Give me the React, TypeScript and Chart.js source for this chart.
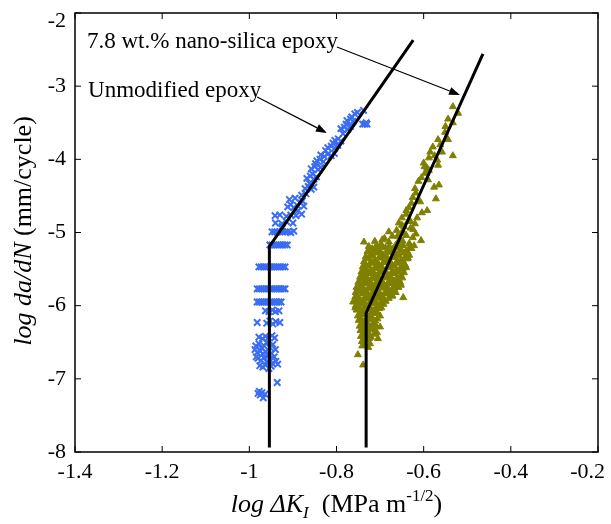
import React, { useEffect, useRef } from "react";
import { Chart, registerables } from "chart.js";

Chart.register(...registerables);

// ---------- axis ticks ----------
const xTickValues = [-1.4, -1.2, -1.0, -0.8, -0.6, -0.4, -0.2];
const xTickLabels = ["-1.4", "-1.2", "-1", "-0.8", "-0.6", "-0.4", "-0.2"];
const yTickValues = [-8, -7, -6, -5, -4, -3, -2];
const yTickLabels = ["-8", "-7", "-6", "-5", "-4", "-3", "-2"];

// ---------- fitted lines (x, y) ----------
const unmodifiedFit: [number, number][] = [
  [-0.954, -7.94],
  [-0.954, -5.19],
  [-0.624, -2.37],
];
const nanoFit: [number, number][] = [
  [-0.732, -7.94],
  [-0.732, -6.1],
  [-0.464, -2.56],
];

// ---------- unmodified epoxy data (log dK, log da/dN) ----------
const unmodifiedPoints: [number, number][] = [
  [-0.98, -7.2], [-0.975, -7.22], [-0.971, -7.19], [-0.968, -7.26], [-0.977, -7.17], [-0.964, -7.21],
  [-0.936, -7.05],
  [-0.985, -6.55], [-0.978, -6.52], [-0.972, -6.58], [-0.966, -6.55], [-0.96, -6.5], [-0.953, -6.57], [-0.946, -6.53], [-0.94, -6.6],
  [-0.982, -6.64], [-0.975, -6.62], [-0.969, -6.66], [-0.962, -6.63], [-0.956, -6.68], [-0.949, -6.65], [-0.943, -6.7],
  [-0.98, -6.72], [-0.973, -6.75], [-0.967, -6.71], [-0.96, -6.77], [-0.954, -6.73], [-0.947, -6.79], [-0.939, -6.76], [-0.935, -6.8],
  [-0.976, -6.82], [-0.969, -6.84], [-0.962, -6.81], [-0.955, -6.86], [-0.95, -6.83],
  [-0.987, -6.6], [-0.984, -6.7],
  [-0.978, -6.43], [-0.97, -6.45], [-0.963, -6.42], [-0.956, -6.44], [-0.948, -6.41], [-0.942, -6.44],
  [-0.982, -6.23], [-0.96, -6.24], [-0.953, -6.21], [-0.946, -6.25], [-0.939, -6.22], [-0.93, -6.23],
  [-0.963, -6.07], [-0.955, -6.08], [-0.947, -6.06], [-0.94, -6.08], [-0.932, -6.07],
  [-0.982, -5.95], [-0.977, -5.95], [-0.972, -5.95], [-0.967, -5.95], [-0.962, -5.95], [-0.957, -5.95], [-0.952, -5.95],
  [-0.947, -5.95], [-0.942, -5.95], [-0.937, -5.95], [-0.932, -5.95], [-0.927, -5.95],
  [-0.982, -5.77], [-0.977, -5.77], [-0.972, -5.77], [-0.967, -5.77], [-0.962, -5.77], [-0.957, -5.77], [-0.952, -5.77],
  [-0.947, -5.77], [-0.942, -5.77], [-0.937, -5.77], [-0.932, -5.77], [-0.927, -5.77], [-0.922, -5.77], [-0.918, -5.77],
  [-0.978, -5.47], [-0.973, -5.47], [-0.968, -5.47], [-0.963, -5.47], [-0.958, -5.47], [-0.953, -5.47], [-0.948, -5.47],
  [-0.943, -5.47], [-0.938, -5.47], [-0.933, -5.47], [-0.928, -5.47], [-0.923, -5.47], [-0.918, -5.47],
  [-0.953, -5.17], [-0.948, -5.17], [-0.943, -5.17], [-0.938, -5.17], [-0.933, -5.17], [-0.928, -5.17], [-0.923, -5.17],
  [-0.918, -5.17], [-0.913, -5.17],
  [-0.948, -4.99], [-0.942, -4.99], [-0.936, -4.99], [-0.93, -4.99], [-0.924, -4.99], [-0.918, -4.99], [-0.912, -4.99],
  [-0.905, -5.0], [-0.898, -4.98],
  [-0.94, -4.87], [-0.925, -4.88], [-0.9, -4.87], [-0.925, -4.92], [-0.915, -4.85],
  [-0.941, -4.77], [-0.93, -4.76], [-0.915, -4.78], [-0.905, -4.76], [-0.893, -4.77], [-0.88, -4.75],
  [-0.888, -4.7],
  [-0.912, -4.65], [-0.905, -4.62], [-0.898, -4.66], [-0.89, -4.63], [-0.882, -4.6], [-0.875, -4.64],
  [-0.908, -4.55], [-0.895, -4.53], [-0.88, -4.49], [-0.87, -4.47], [-0.878, -4.57],
  [-0.872, -4.4], [-0.865, -4.37], [-0.858, -4.41], [-0.852, -4.38], [-0.862, -4.33],
  [-0.868, -4.26], [-0.86, -4.23], [-0.852, -4.27], [-0.846, -4.24], [-0.855, -4.2],
  [-0.858, -4.13], [-0.85, -4.1], [-0.842, -4.14], [-0.836, -4.11], [-0.848, -4.06],
  [-0.845, -4.02], [-0.838, -4.0], [-0.83, -4.03],
  [-0.836, -3.94], [-0.828, -3.96], [-0.82, -3.93], [-0.812, -3.95], [-0.805, -3.92], [-0.825, -3.88],
  [-0.82, -3.84], [-0.812, -3.82], [-0.804, -3.85], [-0.797, -3.81], [-0.808, -3.78],
  [-0.804, -3.74], [-0.796, -3.72], [-0.79, -3.75], [-0.785, -3.65],
  [-0.79, -3.58], [-0.782, -3.56], [-0.774, -3.59], [-0.768, -3.55], [-0.778, -3.52],
  [-0.776, -3.47], [-0.768, -3.45], [-0.762, -3.48], [-0.765, -3.42],
  [-0.758, -3.38], [-0.752, -3.36], [-0.738, -3.33],
  [-0.74, -3.52], [-0.735, -3.52], [-0.73, -3.52], [-0.732, -3.5],
];

// ---------- 7.8 wt.% nano-silica epoxy data ----------
const nanoPoints: [number, number][] = [
  [-0.533, -3.28], [-0.521, -3.37], [-0.544, -3.45], [-0.533, -3.5], [-0.551, -3.63], [-0.544, -3.73],
  [-0.567, -3.73], [-0.579, -3.83], [-0.558, -3.9], [-0.533, -3.95], [-0.588, -3.98], [-0.569, -4.01],
  [-0.567, -4.08], [-0.592, -4.12], [-0.597, -4.19], [-0.59, -4.28], [-0.576, -4.38], [-0.565, -4.35],
  [-0.572, -4.54], [-0.618, -4.46], [-0.608, -4.58], [-0.592, -4.7], [-0.634, -4.66], [-0.604, -4.73],
  [-0.737, -5.13], [-0.606, -5.11], [-0.657, -4.87], [-0.624, -4.96],
  [-0.585, -3.9], [-0.6, -4.05], [-0.612, -4.3], [-0.625, -4.52], [-0.64, -4.75], [-0.615, -4.8],
  [-0.645, -4.92], [-0.63, -4.85], [-0.65, -5.0], [-0.618, -5.02], [-0.66, -5.05],
  [-0.65, -4.8], [-0.64, -4.7], [-0.628, -4.6], [-0.62, -4.4], [-0.605, -4.25], [-0.598, -4.1],
  [-0.588, -4.15], [-0.575, -3.95], [-0.562, -3.8], [-0.55, -3.55],
  [-0.69, -5.08], [-0.672, -5.05], [-0.655, -5.09], [-0.64, -5.04], [-0.625, -5.07], [-0.68, -4.99],
  [-0.662, -4.97], [-0.645, -5.01], [-0.63, -4.94], [-0.65, -4.9], [-0.635, -4.84], [-0.62, -4.88],
  [-0.712, -5.12], [-0.695, -5.1], [-0.708, -5.18],
  [-0.698, -5.16], [-0.68, -5.13], [-0.664, -5.17], [-0.648, -5.12], [-0.633, -5.15], [-0.622, -5.18],
  [-0.726, -5.19], [-0.71, -5.2], [-0.695, -5.19], [-0.679, -5.19], [-0.663, -5.21], [-0.647, -5.18], [-0.632, -5.2],
  [-0.718, -5.22], [-0.702, -5.24], [-0.688, -5.21], [-0.671, -5.23], [-0.655, -5.2], [-0.64, -5.25], [-0.628, -5.22],
  [-0.729, -5.26], [-0.714, -5.25], [-0.7, -5.27], [-0.684, -5.25], [-0.669, -5.27], [-0.653, -5.25], [-0.637, -5.27],
  [-0.722, -5.3], [-0.708, -5.28], [-0.693, -5.31], [-0.677, -5.27], [-0.661, -5.3], [-0.646, -5.28], [-0.633, -5.31],
  [-0.733, -5.33], [-0.716, -5.32], [-0.701, -5.33], [-0.686, -5.32], [-0.672, -5.33], [-0.656, -5.32], [-0.642, -5.33],
  [-0.728, -5.36], [-0.713, -5.38], [-0.697, -5.35], [-0.683, -5.37], [-0.668, -5.34], [-0.652, -5.38], [-0.638, -5.36],
  [-0.737, -5.4], [-0.721, -5.4], [-0.706, -5.41], [-0.691, -5.39], [-0.676, -5.41], [-0.661, -5.39], [-0.646, -5.41],
  [-0.733, -5.44], [-0.718, -5.42], [-0.703, -5.45], [-0.689, -5.41], [-0.673, -5.44], [-0.657, -5.42], [-0.642, -5.45],
  [-0.74, -5.47], [-0.726, -5.46], [-0.711, -5.47], [-0.697, -5.46], [-0.682, -5.47], [-0.667, -5.46], [-0.652, -5.47], [-0.64, -5.48],
  [-0.736, -5.5], [-0.722, -5.52], [-0.708, -5.49], [-0.693, -5.51], [-0.678, -5.48], [-0.663, -5.52], [-0.648, -5.5],
  [-0.743, -5.54], [-0.73, -5.53], [-0.716, -5.54], [-0.701, -5.53], [-0.686, -5.54], [-0.672, -5.53], [-0.657, -5.54], [-0.645, -5.55],
  [-0.738, -5.58], [-0.725, -5.56], [-0.711, -5.59], [-0.697, -5.55], [-0.683, -5.58], [-0.668, -5.56], [-0.652, -5.59],
  [-0.746, -5.61], [-0.732, -5.6], [-0.718, -5.61], [-0.704, -5.6], [-0.69, -5.61], [-0.676, -5.6], [-0.661, -5.61], [-0.649, -5.62],
  [-0.742, -5.64], [-0.729, -5.66], [-0.715, -5.63], [-0.701, -5.65], [-0.687, -5.62], [-0.672, -5.66], [-0.657, -5.64],
  [-0.75, -5.68], [-0.736, -5.67], [-0.722, -5.68], [-0.708, -5.67], [-0.694, -5.68], [-0.68, -5.67], [-0.666, -5.68], [-0.654, -5.68],
  [-0.746, -5.72], [-0.733, -5.7], [-0.719, -5.73], [-0.705, -5.69], [-0.691, -5.72], [-0.676, -5.7], [-0.662, -5.73],
  [-0.754, -5.75], [-0.74, -5.74], [-0.726, -5.75], [-0.712, -5.74], [-0.698, -5.75], [-0.684, -5.74], [-0.67, -5.75], [-0.658, -5.75],
  [-0.75, -5.78], [-0.737, -5.8], [-0.723, -5.77], [-0.709, -5.79], [-0.695, -5.76], [-0.681, -5.8], [-0.667, -5.78],
  [-0.756, -5.82], [-0.744, -5.81], [-0.73, -5.82], [-0.716, -5.81], [-0.702, -5.82], [-0.688, -5.81], [-0.676, -5.82], [-0.664, -5.82],
  [-0.753, -5.86], [-0.74, -5.84], [-0.726, -5.87], [-0.712, -5.83], [-0.698, -5.86], [-0.684, -5.84], [-0.672, -5.87],
  [-0.75, -5.89], [-0.735, -5.89], [-0.721, -5.89], [-0.707, -5.88], [-0.693, -5.89], [-0.68, -5.9],
  [-0.755, -5.92], [-0.742, -5.94], [-0.728, -5.91], [-0.714, -5.93], [-0.7, -5.9], [-0.687, -5.94],
  [-0.75, -5.96], [-0.736, -5.96], [-0.722, -5.95], [-0.709, -5.96], [-0.697, -5.95],
  [-0.756, -6.0], [-0.743, -5.98], [-0.729, -6.01], [-0.716, -5.97], [-0.703, -6.0], [-0.692, -5.98],
  [-0.748, -6.03], [-0.735, -6.02], [-0.722, -6.03], [-0.709, -6.02], [-0.697, -6.03],
  [-0.754, -6.06], [-0.741, -6.08], [-0.728, -6.05], [-0.715, -6.07], [-0.702, -6.04],
  [-0.746, -6.1], [-0.733, -6.09], [-0.72, -6.1], [-0.707, -6.09],
  [-0.751, -6.14], [-0.738, -6.12], [-0.725, -6.15], [-0.712, -6.11], [-0.7, -6.14],
  [-0.744, -6.17], [-0.731, -6.17], [-0.718, -6.17], [-0.706, -6.18],
  [-0.749, -6.2], [-0.736, -6.22], [-0.723, -6.19], [-0.711, -6.21],
  [-0.742, -6.24], [-0.729, -6.24], [-0.716, -6.24],
  [-0.747, -6.28], [-0.734, -6.26], [-0.721, -6.29], [-0.71, -6.27],
  [-0.74, -6.31], [-0.727, -6.31], [-0.714, -6.31],
  [-0.745, -6.34], [-0.732, -6.36], [-0.719, -6.33],
  [-0.738, -6.38], [-0.726, -6.38], [-0.714, -6.39],
  [-0.744, -6.42], [-0.731, -6.4], [-0.721, -6.43],
  [-0.736, -6.45], [-0.725, -6.45],
  [-0.742, -6.49], [-0.729, -6.47],
  [-0.735, -6.52], [-0.723, -6.52],
  [-0.741, -6.55], [-0.727, -6.57],
  [-0.757, -5.88], [-0.647, -5.89], [-0.636, -5.35], [-0.652, -5.72], [-0.673, -5.85], [-0.7, -6.29],
  [-0.707, -6.37], [-0.705, -6.45], [-0.751, -6.67], [-0.739, -6.81], [-0.757, -6.03], [-0.762, -5.95],
];

// ---------- annotation labels ----------
const nanoLabel = "7.8 wt.% nano-silica epoxy";
const unmodifiedLabel = "Unmodified epoxy";

const SERIF = "'Liberation Serif', 'Times New Roman', serif";

const toXY = (pts: [number, number][]) => pts.map(([x, y]) => ({ x, y }));

function drawArrow(ctx: CanvasRenderingContext2D, x1: number, y1: number, x2: number, y2: number) {
  const ang = Math.atan2(y2 - y1, x2 - x1);
  const hl = 11;
  const hw = 4;
  const bx = x2 - hl * Math.cos(ang);
  const by = y2 - hl * Math.sin(ang);
  ctx.beginPath();
  ctx.moveTo(x1, y1);
  ctx.lineTo(bx, by);
  ctx.lineWidth = 1.2;
  ctx.stroke();
  ctx.beginPath();
  ctx.moveTo(x2, y2);
  ctx.lineTo(bx + hw * Math.sin(ang), by - hw * Math.cos(ang));
  ctx.lineTo(bx - hw * Math.sin(ang), by + hw * Math.cos(ang));
  ctx.closePath();
  ctx.fill();
}

type Seg = { t: string; font: string; dy?: number };

function segWidth(ctx: CanvasRenderingContext2D, segs: Seg[]) {
  let w = 0;
  for (const s of segs) {
    ctx.font = s.font;
    w += ctx.measureText(s.t).width;
  }
  return w;
}

function drawSegs(ctx: CanvasRenderingContext2D, segs: Seg[], x: number, y: number) {
  let cx = x;
  for (const s of segs) {
    ctx.font = s.font;
    ctx.fillText(s.t, cx, y + (s.dy || 0));
    cx += ctx.measureText(s.t).width;
  }
}

const overlayPlugin = {
  id: "overlay",
  afterDraw(chart: any) {
    const { ctx, chartArea: a, scales, width } = chart;
    const xs = scales.x;
    const ys = scales.y;
    ctx.save();
    ctx.strokeStyle = "#000";
    ctx.fillStyle = "#000";
    ctx.lineWidth = 1.5;
    ctx.strokeRect(a.left, a.top, a.right - a.left, a.bottom - a.top);
    const t = 6;
    ctx.beginPath();
    xTickValues.forEach((v) => {
      const px = xs.getPixelForValue(v);
      ctx.moveTo(px, a.bottom);
      ctx.lineTo(px, a.bottom - t);
      ctx.moveTo(px, a.top);
      ctx.lineTo(px, a.top + t);
    });
    yTickValues.forEach((v) => {
      const py = ys.getPixelForValue(v);
      ctx.moveTo(a.left, py);
      ctx.lineTo(a.left + t, py);
      ctx.moveTo(a.right, py);
      ctx.lineTo(a.right - t, py);
    });
    ctx.lineWidth = 1;
    ctx.stroke();

    // tick labels (kept inside the figure like the exported original)
    ctx.font = `22px ${SERIF}`;
    ctx.textAlign = "center";
    ctx.textBaseline = "alphabetic";
    xTickValues.forEach((v, i) => {
      const w = ctx.measureText(xTickLabels[i]).width;
      const px = Math.min(xs.getPixelForValue(v), width - 6 - w / 2);
      ctx.fillText(xTickLabels[i], px, a.bottom + 26);
    });
    ctx.textAlign = "right";
    ctx.textBaseline = "middle";
    yTickValues.forEach((v, i) => {
      const py = Math.max(ys.getPixelForValue(v), a.top + 8);
      ctx.fillText(yTickLabels[i], a.left - 9, py);
    });

    // annotations
    ctx.font = `23px ${SERIF}`;
    ctx.textBaseline = "alphabetic";
    ctx.textAlign = "left";
    ctx.fillText(nanoLabel, xs.getPixelForValue(-1.3725), ys.getPixelForValue(-2.478));
    ctx.fillText(unmodifiedLabel, xs.getPixelForValue(-1.37), ys.getPixelForValue(-3.148));
    drawArrow(
      ctx,
      xs.getPixelForValue(-0.799), ys.getPixelForValue(-2.464),
      xs.getPixelForValue(-0.5166), ys.getPixelForValue(-3.12)
    );
    drawArrow(
      ctx,
      xs.getPixelForValue(-0.982), ys.getPixelForValue(-3.148),
      xs.getPixelForValue(-0.822), ys.getPixelForValue(-3.639)
    );

    // x-axis title
    const fi = `italic 26px ${SERIF}`;
    const fn = `26px ${SERIF}`;
    const xSegs: Seg[] = [
      { t: "log ", font: fi },
      { t: "\u0394K", font: fi },
      { t: "I", font: `italic 17px ${SERIF}`, dy: 6 },
      { t: "  (MPa m", font: fn },
      { t: "-1/2", font: `17px ${SERIF}`, dy: -11 },
      { t: ")", font: fn },
    ];
    const cx = (a.left + a.right) / 2;
    const xw = segWidth(ctx, xSegs);
    drawSegs(ctx, xSegs, cx - xw / 2, 512);

    // y-axis title
    const ySegs: Seg[] = [
      { t: "log da/dN", font: fi },
      { t: " (mm/cycle)", font: fn },
    ];
    const yw = segWidth(ctx, ySegs);
    const cy = 231;
    ctx.translate(31, cy);
    ctx.rotate(-Math.PI / 2);
    drawSegs(ctx, ySegs, -yw / 2, 0);
    ctx.restore();
  },
};

export default function App() {
  const ref = useRef<HTMLCanvasElement | null>(null);

  useEffect(() => {
    if (!ref.current) return;
    const chart = new Chart(ref.current, {
      type: "scatter",
      data: {
        datasets: [
          {
            label: "Unmodified fit",
            data: toXY(unmodifiedFit),
            showLine: true,
            borderColor: "#000",
            borderWidth: 3,
            pointRadius: 0,
            fill: false,
            order: 0,
          },
          {
            label: "Nano fit",
            data: toXY(nanoFit),
            showLine: true,
            borderColor: "#000",
            borderWidth: 3,
            pointRadius: 0,
            fill: false,
            order: 0,
          },
          {
            label: "Unmodified epoxy",
            data: toXY(unmodifiedPoints),
            pointStyle: "crossRot",
            pointRadius: 4.5,
            pointHoverRadius: 4.5,
            borderColor: "#3a6cf4",
            backgroundColor: "#3a6cf4",
            borderWidth: 2,
            order: 1,
          },
          {
            label: "7.8 wt.% nano-silica epoxy",
            data: toXY(nanoPoints),
            pointStyle: "triangle",
            pointRadius: 4,
            pointHoverRadius: 4,
            borderColor: "#808000",
            backgroundColor: "#808000",
            borderWidth: 1,
            order: 1,
          },
        ],
      },
      options: {
        responsive: false,
        animation: false,
        events: [],
        layout: { padding: { left: 0, right: 13, top: 13, bottom: 0 } },
        plugins: {
          legend: { display: false },
          tooltip: { enabled: false },
          title: { display: false },
        },
        scales: {
          x: {
            type: "linear",
            min: -1.4,
            max: -0.2,
            grid: { display: false, drawTicks: false },
            border: { display: false },
            afterBuildTicks: (s: any) => {
              s.ticks = xTickValues.map((v) => ({ value: v }));
            },
            ticks: { display: false },
            afterFit: (s: any) => {
              s.height = 72;
              s.paddingLeft = 0;
              s.paddingRight = 0;
            },
          },
          y: {
            type: "linear",
            min: -8,
            max: -2,
            grid: { display: false, drawTicks: false },
            border: { display: false },
            afterBuildTicks: (s: any) => {
              s.ticks = yTickValues.map((v) => ({ value: v }));
            },
            ticks: { display: false },
            afterFit: (s: any) => {
              s.width = 75;
              s.paddingTop = 0;
              s.paddingBottom = 0;
            },
          },
        },
      },
      plugins: [overlayPlugin],
    });
    return () => chart.destroy();
  }, []);

  return (
    <div style={{ position: "absolute", left: 0, top: 0, width: 611, height: 524, background: "#fff" }}>
      <canvas ref={ref} width={611} height={524} />
    </div>
  );
}
